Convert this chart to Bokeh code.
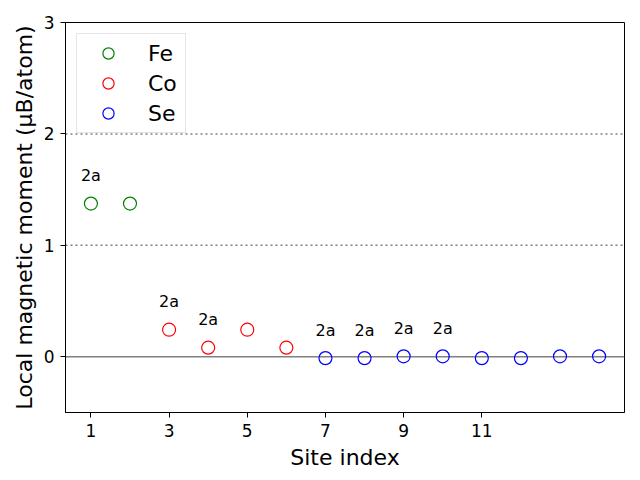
from bokeh.plotting import figure
from bokeh.models import Span, Range1d, FixedTicker, ColumnDataSource, Legend
from bokeh.core.properties import value
from bokeh.embed import file_html
from bokeh.resources import INLINE

fe_x = [1, 2]
fe_y = [1.375, 1.375]
co_x = [3, 4, 5, 6]
co_y = [0.243, 0.082, 0.243, 0.082]
se_x = [7, 8, 9, 10, 11, 12, 13, 14]
se_y = [-0.012, -0.012, 0.004, 0.004, -0.012, -0.012, 0.004, 0.004]
label_x = [1, 3, 4, 7, 8, 9, 10]
label_y = [1.375, 0.243, 0.082, -0.012, -0.012, 0.004, 0.004]
label_text = ["2a"] * 7
x_ticks = [1, 3, 5, 7, 9, 11]
y_ticks = [0, 1, 2, 3]
ref_dotted = [1, 2]

FONT = "DejaVu Sans"

p = figure(frame_width=559, frame_height=390, output_backend="svg", toolbar_location=None,
           x_range=Range1d(0.35, 14.65), y_range=Range1d(-0.5, 3))
p.min_border_left = 65
p.min_border_top = 22
p.min_border_right = 7
p.min_border_bottom = 60
p.background_fill_color = "white"
p.border_fill_color = "white"
p.outline_line_color = "black"
p.outline_line_width = 1
p.outline_line_alpha = 1
p.grid.visible = False

for ax in (p.xaxis, p.yaxis):
    ax.major_label_text_font = FONT
    ax.major_label_text_font_size = "17px"
    ax.axis_label_text_font = FONT
    ax.axis_label_text_font_size = "22px"
    ax.axis_label_text_font_style = "normal"
    ax.minor_tick_line_color = None
    ax.major_tick_out = 5
    ax.major_tick_in = 0
    ax.axis_line_color = "black"
    ax.major_tick_line_color = "black"
    ax.major_label_text_color = "black"
    ax.axis_label_text_color = "black"

p.xaxis.ticker = FixedTicker(ticks=x_ticks)
p.yaxis.ticker = FixedTicker(ticks=y_ticks)
p.xaxis.axis_label = "Site index"
p.yaxis.axis_label = "Local magnetic moment (μB/atom)"
p.xaxis.major_label_standoff = 6
p.yaxis.major_label_standoff = 6
p.xaxis.axis_label_standoff = 5
p.yaxis.axis_label_standoff = 4

p.add_layout(Span(location=0, dimension="width", line_color="gray", line_width=1.5, level="underlay"))
for yv in ref_dotted:
    p.add_layout(Span(location=yv, dimension="width", line_color="gray", line_width=1.5,
                      line_dash="2 3", level="underlay"))

r_fe = p.scatter(fe_x, fe_y, marker="circle", size=13, fill_color=None, line_color="green", line_width=1.2)
r_co = p.scatter(co_x, co_y, marker="circle", size=13, fill_color=None, line_color="red", line_width=1.2)
r_se = p.scatter(se_x, se_y, marker="circle", size=13, fill_color=None, line_color="blue", line_width=1.2)

src = ColumnDataSource(dict(x=label_x, y=[v + 0.25 for v in label_y], t=label_text))
p.text(x="x", y="y", text="t", source=src, text_align="center", text_baseline="middle",
       text_font=value(FONT), text_font_size="16px", text_color="black")

legend = Legend(items=[("Fe", [r_fe]), ("Co", [r_co]), ("Se", [r_se])], location="top_left")
legend.label_text_font = FONT
legend.label_text_font_size = "22px"
legend.label_text_color = "black"
legend.glyph_width = 52
legend.glyph_height = 28
legend.label_height = 28
legend.label_width = 32
legend.label_standoff = 14
legend.spacing = 2
legend.padding = 5
legend.margin = 11
legend.border_line_color = "#cccccc"
legend.border_line_width = 1
legend.background_fill_color = "white"
legend.background_fill_alpha = 0.8
p.add_layout(legend)

open("out.html", "w").write(file_html(p, INLINE))
